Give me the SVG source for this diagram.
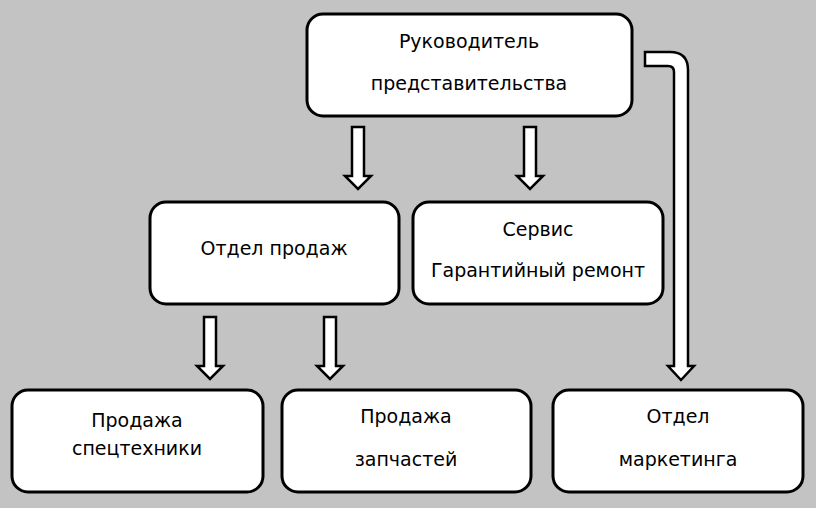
<svg xmlns="http://www.w3.org/2000/svg" width="816" height="508" viewBox="0 0 816 508">
<style>
.b{fill:#fff;stroke:#000;stroke-width:3}
.a{fill:#fff;stroke:#000;stroke-width:2.5;stroke-linejoin:miter}
text{font-family:"DejaVu Sans",sans-serif;font-size:19px;text-anchor:middle;fill:#000}
</style>
<rect width="816" height="508" fill="#c3c3c3"/>
<g id="n1"><rect class="b" x="307" y="14" width="325" height="102" rx="16"/><text x="469" y="48">Руководитель</text><text x="469" y="90">представительства</text></g>
<g id="n2"><rect class="b" x="150" y="202" width="249" height="102" rx="16"/><text x="274" y="255">Отдел продаж</text></g>
<g id="n3"><rect class="b" x="413" y="202" width="250" height="102" rx="16"/><text x="538" y="236">Сервис</text><text x="538" y="277">Гарантийный ремонт</text></g>
<g id="n4"><rect class="b" x="12" y="390" width="251" height="102" rx="16"/><text x="137" y="427">Продажа</text><text x="137" y="455">спецтехники</text></g>
<g id="n5"><rect class="b" x="282" y="390" width="249" height="102" rx="16"/><text x="406" y="423">Продажа</text><text x="406" y="466">запчастей</text></g>
<g id="n6"><rect class="b" x="553" y="390" width="250" height="102" rx="16"/><text x="678" y="423">Отдел</text><text x="678" y="466">маркетинга</text></g>
<g id="connectors">
<path class="a" d="M352,127 H364 V176 H371 L358,189 L345,176 H352 Z"/>
<path class="a" d="M524,127 H536 V176 H543 L530,189 L517,176 H524 Z"/>
<path class="a" d="M204,317 H216 V366 H223 L210,379 L197,366 H204 Z"/>
<path class="a" d="M324,317 H336 V366 H343 L330,379 L317,366 H324 Z"/>
<path class="a" d="M645,52 H670 Q688,52 688,70 V366 H694 L681,380 L668,366 H674 V72 Q674,66 668,66 H645 Z"/>
</g>
</svg>
